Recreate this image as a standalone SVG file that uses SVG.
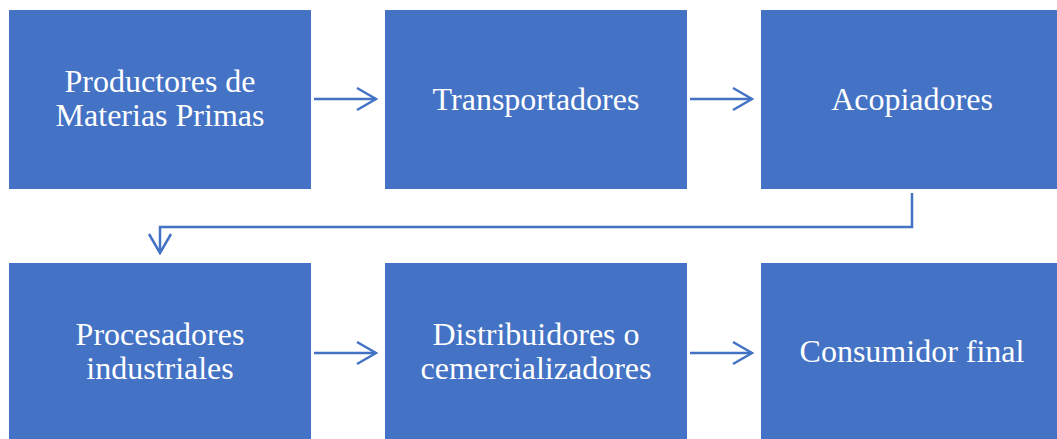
<svg xmlns="http://www.w3.org/2000/svg" width="1057" height="439" viewBox="0 0 1057 439">
<style>
.box{fill:#4472C4}
.t{fill:#fff;font-family:"Liberation Serif","Times New Roman",serif;font-size:32px;text-anchor:middle}
.c{fill:none;stroke:#4472C4;stroke-width:2.5}
</style>
<defs>
<marker id="ah" viewBox="0 0 22 26" refX="20" refY="13" markerWidth="22" markerHeight="26" markerUnits="userSpaceOnUse" orient="auto">
<path d="M1,2 L20,13 L1,24" fill="none" stroke="#4472C4" stroke-width="2.5"/>
</marker>
</defs>
<rect width="1057" height="439" fill="#fff"/>
<g id="n1"><rect class="box" x="9" y="10" width="302" height="179"/><text class="t" x="160" y="92">Productores de</text><text class="t" x="160" y="126">Materias Primas</text></g>
<g id="n2"><rect class="box" x="385" y="10" width="302" height="179"/><text class="t" x="536" y="110">Transportadores</text></g>
<g id="n3"><rect class="box" x="761" y="10" width="296" height="179"/><text class="t" x="912" y="110">Acopiadores</text></g>
<g id="n4"><rect class="box" x="9" y="263" width="302" height="176"/><text class="t" x="160" y="345">Procesadores</text><text class="t" x="160" y="379">industriales</text></g>
<g id="n5"><rect class="box" x="385" y="263" width="302" height="176"/><text class="t" x="536" y="345">Distribuidores o</text><text class="t" x="536" y="379">cemercializadores</text></g>
<g id="n6"><rect class="box" x="761" y="263" width="296" height="176"/><text class="t" x="912" y="362">Consumidor final</text></g>
<g id="connectors">
<path class="c" d="M314,99 H376" marker-end="url(#ah)"/>
<path class="c" d="M690,99 H752" marker-end="url(#ah)"/>
<path class="c" d="M912,193 V227 H160 V253" marker-end="url(#ah)"/>
<path class="c" d="M314,353 H376" marker-end="url(#ah)"/>
<path class="c" d="M690,353 H752" marker-end="url(#ah)"/>
</g>
</svg>
